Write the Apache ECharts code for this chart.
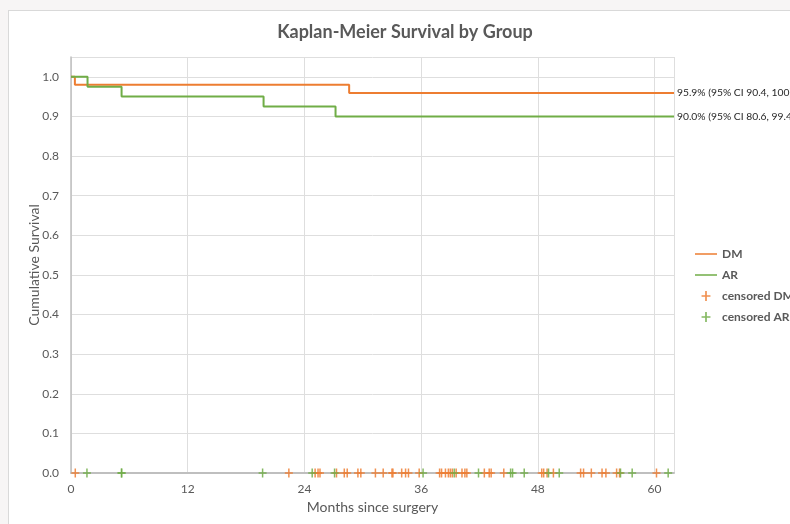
<!DOCTYPE html>
<html><head><meta charset="utf-8">
<script src="https://cdn.jsdelivr.net/npm/echarts@6/dist/echarts.min.js"></script>
<style>
html,body{margin:0;padding:0;width:790px;height:524px;overflow:hidden;background:#f7f5f5;}
#panel{position:absolute;left:8px;top:10px;width:790px;height:524px;background:#fff;border:1px solid #d9d9d9;}
#chart{width:790px;height:524px;}
</style></head>
<body><div id="panel"><div id="chart"></div></div>
<script>
// Kaplan-Meier step points [month, survival]
const dmSteps = [[0,1.0],[0.4,0.98],[28.6,0.959],[62,0.959]];
const arSteps = [[0,1.0],[1.7,0.975],[5.2,0.95],[19.8,0.925],[27.2,0.90],[62,0.90]];
// censored times (months)
const dmCensored = [0.44,22.4,25.1,25.4,25.6,27.3,28.1,28.4,29.5,29.8,31.3,32.1,33.0,33.1,34.0,34.4,34.7,35.8,
  37.9,38.1,38.5,38.8,39.0,39.2,39.6,40.2,40.5,40.7,42.5,43.0,43.2,44.5,48.4,48.6,48.95,49.6,52.4,52.7,53.5,54.6,55.0,56.1,56.4,60.2];
const arCensored = [1.64,5.2,5.2,19.7,24.8,27.1,36.2,39.4,41.9,45.2,45.4,46.6,49.1,50.2,56.5,57.7,61.4];
const dmLabel = '95.9% (95% CI 90.4, 100)';
const arLabel = '90.0% (95% CI 80.6, 99.4)';
const xTicks = [0,12,24,36,48,60];

const ORANGE = '#ED7D31', GREEN = '#70AD47', TXT = '#595959';
const FONT = 'Lato, "Open Sans", sans-serif';
const plus = 'path://M3.25,0h1.5v9h-1.5z M0,3.75h8v1.5h-8z';
const lineIcon = 'path://M0,4.25h22v1.5h-22z';

const chart = echarts.init(document.getElementById('chart'), null, {renderer:'canvas'});
chart.setOption({
  animation:false,
  textStyle:{fontFamily:FONT},
  title:{text:'Kaplan-Meier Survival by Group', left:391, top:7, textAlign:'center',
    textStyle:{fontFamily:FONT, fontSize:18, fontWeight:'bold', color:TXT}},
  grid:{left:62, top:46, width:603, height:416, containLabel:false},
  legend:{orient:'vertical', left:681, top:232, itemGap:9, itemWidth:22, itemHeight:10,
    symbolKeepAspect:true,
    textStyle:{fontFamily:FONT, fontSize:12, fontWeight:'bold', color:TXT},
    data:[
      {name:'DM', icon:lineIcon, itemStyle:{color:ORANGE}},
      {name:'AR', icon:lineIcon, itemStyle:{color:GREEN}},
      {name:'censored DM', icon:plus, itemStyle:{color:ORANGE}},
      {name:'censored AR', icon:plus, itemStyle:{color:GREEN}}
    ]},
  xAxis:{type:'value', min:0, max:62, interval:12,
    name:'Months since surgery', nameLocation:'middle', nameGap:27, nameMoveOverlap:false,
    nameTextStyle:{fontFamily:FONT, fontSize:14, color:TXT},
    axisLine:{lineStyle:{color:'#bfbfbf', width:2}}, axisTick:{show:false},
    axisLabel:{color:TXT, fontSize:12, fontFamily:FONT, margin:10,
      formatter:v=> xTicks.includes(v) ? String(v) : ''},
    splitLine:{show:true, lineStyle:{color:'#dedede', width:1}}},
  yAxis:{type:'value', min:0, max:1.05, interval:0.1,
    name:'Cumulative Survival', nameLocation:'middle', nameGap:30, nameRotate:90, nameMoveOverlap:false,
    nameTextStyle:{fontFamily:FONT, fontSize:14, color:TXT},
    axisLine:{show:true, lineStyle:{color:'#bfbfbf', width:1.5}}, axisTick:{show:false},
    axisLabel:{color:TXT, fontSize:12, fontFamily:FONT, margin:12, showMaxLabel:false,
      formatter:v=> v.toFixed(1)},
    splitLine:{show:true, lineStyle:{color:'#dedede', width:1}}},
  series:[
    {name:'DM', type:'line', step:'end', data:dmSteps, symbol:'none',
      lineStyle:{color:ORANGE, width:2}, itemStyle:{color:ORANGE}, z:3,
      endLabel:{show:true, formatter:dmLabel, color:'#262626', fontSize:10.3, fontFamily:FONT, distance:3}},
    {name:'AR', type:'line', step:'end', data:arSteps, symbol:'none',
      lineStyle:{color:GREEN, width:2}, itemStyle:{color:GREEN}, z:3,
      endLabel:{show:true, formatter:arLabel, color:'#262626', fontSize:10.3, fontFamily:FONT, distance:3}},
    {name:'censored DM', type:'scatter', symbol:plus, symbolSize:[8,9],
      data:dmCensored.map(t=>[t,0]), itemStyle:{color:ORANGE, opacity:0.85}, z:4},
    {name:'censored AR', type:'scatter', symbol:plus, symbolSize:[8,9],
      data:arCensored.map(t=>[t,0]), itemStyle:{color:GREEN, opacity:0.85}, z:4}
  ]
});
</script></body></html>
